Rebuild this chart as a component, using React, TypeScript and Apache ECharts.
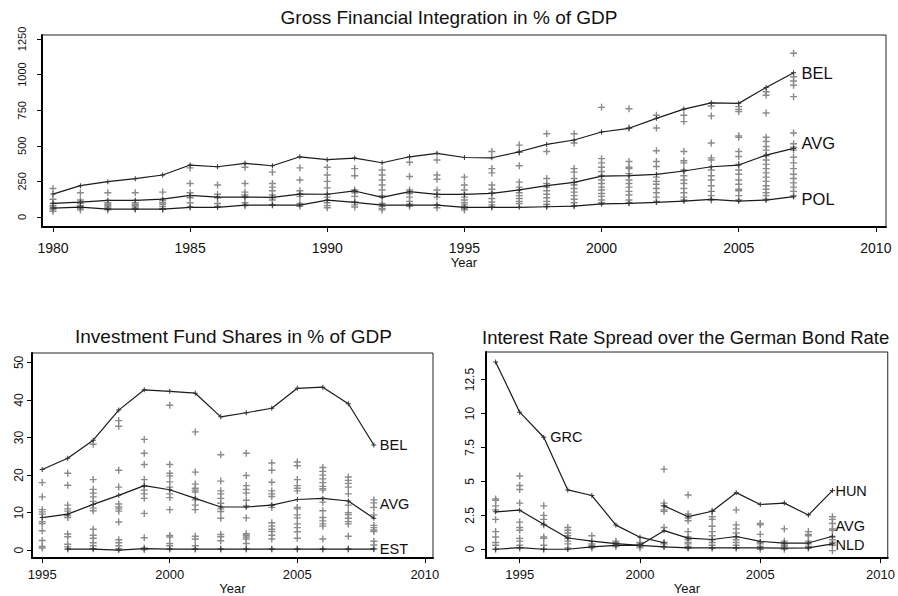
import React, { useEffect, useRef } from "react";
import * as echarts from "echarts";

// ---------- Panel 1: Gross Financial Integration in % of GDP ----------
const gfiYears = [1980, 1981, 1982, 1983, 1984, 1985, 1986, 1987, 1988, 1989, 1990, 1991, 1992, 1993, 1994, 1995, 1996, 1997, 1998, 1999, 2000, 2001, 2002, 2003, 2004, 2005, 2006, 2007];
const gfiBEL = [161, 220, 248, 269, 295, 365, 353, 377, 360, 423, 403, 414, 381, 423, 447, 418, 416, 458, 510, 541, 597, 623, 693, 758, 802, 798, 910, 1013];
const gfiAVG = [96, 105, 117, 117, 126, 152, 140, 140, 138, 161, 160, 183, 138, 178, 159, 159, 166, 190, 220, 243, 287, 290, 300, 323, 353, 365, 435, 482];
const gfiPOL = [63, 70, 56, 56, 56, 68, 68, 84, 84, 84, 119, 103, 84, 84, 84, 68, 68, 68, 72, 77, 92, 96, 103, 112, 124, 112, 119, 143];
const gfiOthers = [
  [200, 125, 95, 80, 70, 60, 50, 40],
  [170, 120, 95, 80, 70, 60, 50],
  [170, 100, 90, 80, 70, 60, 50],
  [170, 100, 90, 80, 70, 60, 55],
  [175, 115, 100, 90, 75, 60, 55],
  [345, 235, 170, 150, 135, 100, 70],
  [225, 160, 135, 95, 75],
  [350, 235, 175, 155, 140, 100, 80],
  [315, 235, 210, 185, 155, 135, 120, 85],
  [345, 260, 185, 160, 145, 95, 75],
  [350, 295, 250, 205, 160, 140, 100, 80, 65],
  [340, 290, 190, 170, 145, 105, 85, 70],
  [330, 295, 260, 225, 190, 150, 95, 75, 60, 50],
  [385, 285, 190, 165, 140, 110, 90, 75],
  [400, 295, 265, 190, 160, 140, 85, 65],
  [280, 225, 190, 160, 140, 120, 100, 85, 70, 60, 50],
  [460, 340, 310, 225, 195, 170, 130, 105, 85, 70],
  [505, 455, 360, 245, 210, 170, 150, 130, 110, 95],
  [585, 460, 270, 235, 210, 185, 160, 135, 110, 90, 75],
  [585, 520, 340, 315, 270, 245, 225, 200, 175, 150, 125, 100, 80],
  [770, 410, 380, 350, 320, 290, 260, 235, 210, 190, 165, 145, 120, 100],
  [760, 625, 390, 350, 340, 305, 260, 235, 210, 180, 155, 120, 100],
  [715, 625, 465, 390, 355, 280, 250, 230, 200, 170, 140, 110],
  [715, 670, 460, 395, 380, 330, 290, 260, 235, 200, 170, 140, 120],
  [780, 710, 520, 415, 400, 330, 290, 260, 220, 180, 150, 120],
  [775, 755, 740, 570, 560, 460, 425, 370, 330, 300, 260, 230, 195, 185, 150, 120],
  [880, 855, 730, 560, 530, 495, 470, 430, 400, 370, 340, 310, 280, 250, 220, 195, 170, 150, 125],
  [1150, 985, 955, 925, 845, 590, 515, 490, 470, 420, 380, 340, 300, 270, 240, 210, 180, 150],
];
const gfiXTicks = [1980, 1985, 1990, 1995, 2000, 2005, 2010];
const gfiYTicks = [0, 250, 500, 750, 1000, 1250];

// ---------- Panel 2: Investment Fund Shares in % of GDP ----------
const ifsYears = [1995, 1996, 1997, 1998, 1999, 2000, 2001, 2002, 2003, 2004, 2005, 2006, 2007, 2008];
const ifsBEL = [21.5, 24.5, 29.3, 37.3, 42.7, 42.3, 41.8, 35.5, 36.6, 37.8, 43.1, 43.4, 39.0, 28.0];
const ifsAVG = [8.7, 9.6, 12.2, 14.6, 17.2, 16.1, 13.8, 11.5, 11.5, 12.0, 13.5, 13.8, 13.1, 8.5];
const ifsEST = [null, 0.3, 0.3, 0.0, 0.4, 0.3, 0.3, 0.3, 0.3, 0.3, 0.3, 0.3, 0.3, 0.3];
const ifsOthers = [
  [18.0, 14.2, 10.8, 10.2, 9.6, 7.6, 7.1, 5.2, 2.6, 1.0, 0.6],
  [20.5, 17.3, 12.0, 11.0, 10.4, 9.2, 8.7, 4.3, 3.6, 1.6, 0.9, 0.3],
  [28.2, 18.8, 16.2, 15.2, 14.2, 13.0, 11.2, 10.5, 5.6, 4.0, 3.2, 2.0, 1.2, 0.4],
  [34.5, 33.0, 21.3, 16.8, 12.3, 11.5, 11.0, 10.4, 7.5, 2.8, 2.0, 1.2, 0.4],
  [29.5, 25.8, 22.8, 18.8, 17.0, 16.0, 15.0, 13.8, 9.8, 3.3, 0.6, 0.2],
  [38.6, 22.8, 20.5, 19.8, 18.2, 16.8, 15.0, 14.0, 10.8, 3.9, 3.5, 1.8, 1.2, 0.3],
  [31.5, 20.8, 17.6, 16.5, 16.0, 15.5, 13.4, 12.0, 10.8, 3.7, 3.0, 1.2, 0.3],
  [25.4, 18.4, 15.8, 15.0, 13.8, 12.5, 11.0, 10.3, 8.5, 4.2, 3.6, 2.5, 0.3],
  [25.8, 19.9, 17.2, 16.2, 15.2, 13.3, 11.8, 8.6, 4.4, 4.0, 3.5, 3.0, 1.8, 0.3],
  [23.2, 21.3, 18.1, 15.8, 15.0, 14.3, 12.0, 11.4, 7.3, 6.4, 5.6, 5.0, 4.0, 3.0, 0.3],
  [23.5, 22.5, 18.8, 17.2, 16.5, 15.8, 11.4, 11.0, 9.4, 8.6, 7.0, 6.0, 4.9, 3.2, 0.3],
  [22.0, 21.0, 20.0, 19.0, 18.0, 17.0, 16.4, 16.0, 12.8, 10.5, 8.7, 7.8, 7.0, 6.4, 3.0, 0.3],
  [19.5, 18.6, 17.8, 16.8, 15.0, 12.0, 10.0, 9.5, 8.5, 7.6, 7.0, 3.7, 0.3],
  [13.4, 12.6, 11.4, 9.4, 6.6, 6.0, 5.4, 5.0, 2.4, 1.4, 0.4],
];
const ifsXTicks = [1995, 2000, 2005, 2010];
const ifsYTicks = [0, 10, 20, 30, 40, 50];

// ---------- Panel 3: Interest Rate Spread over the German Bond Rate ----------
const irsYears = [1994, 1995, 1996, 1997, 1998, 1999, 2000, 2001, 2002, 2003, 2004, 2005, 2006, 2007, 2008];
const irsGRC = [13.8, 10.1, 8.25, 4.37, 3.96, 1.78, 0.89, 0.48, null, null, null, null, null, null, null];
const irsHUN = [null, null, null, null, null, null, null, 3.2, 2.4, 2.8, 4.17, 3.3, 3.4, 2.52, 4.32];
const irsAVG = [2.76, 2.88, 1.85, 0.83, 0.6, 0.41, 0.29, 1.37, 0.82, 0.72, 0.94, 0.58, 0.46, 0.46, 0.96];
const irsNLD = [0.0, 0.12, 0.0, 0.0, 0.17, 0.29, 0.29, 0.17, 0.1, 0.1, 0.1, 0.1, 0.08, 0.1, 0.4];
const irsOthers = [
  [3.7, 3.6, 3.2, 2.9, 2.2, 1.3, 0.9, 0.5, 0.3, 0.0],
  [5.4, 4.7, 4.4, 3.4, 2.0, 1.6, 1.4, 0.8, 0.6, 0.3, 0.1],
  [3.2, 2.5, 2.2, 1.8, 0.9, 0.8, 0.3, 0.0],
  [1.6, 1.4, 1.2, 1.0, 0.8, 0.6, 0.4, 0.1],
  [1.0, 0.4, 0.3, 0.2, 0.1],
  [0.6, 0.5, 0.4, 0.3, 0.2],
  [0.5, 0.4, 0.3, 0.2, 0.1],
  [5.9, 3.4, 3.2, 2.9, 2.8, 1.6, 0.5, 0.4, 0.2],
  [4.0, 2.6, 2.3, 2.1, 1.3, 0.9, 0.7, 0.5, 0.4, 0.2, 0.1],
  [2.8, 2.4, 2.2, 1.7, 1.3, 1.0, 0.7, 0.5, 0.3, 0.1],
  [2.9, 1.8, 1.5, 1.2, 0.9, 0.7, 0.5, 0.3, 0.1],
  [1.9, 1.8, 1.1, 0.5, 0.4, 0.2, 0.0],
  [1.5, 0.6, 0.4, 0.3, 0.2, 0.0],
  [1.3, 1.1, 1.0, 0.6, 0.4, 0.2, 0.1],
  [2.4, 2.2, 1.9, 1.5, 1.4, 0.9, 0.7, 0.5, 0.3, -0.1],
];
const irsXTicks = [1995, 2000, 2005, 2010];
const irsYTicks = [0, 2.5, 5, 7.5, 10, 12.5];

// ---------- helpers ----------
const FONT = "'Liberation Sans', Arial, Helvetica, sans-serif";
const TEXT = "#111";
const PLUS = "path://M4,0H6V4H10V6H6V10H4V6H0V4H4Z";

function flatten(years: number[], lists: number[][]) {
  const out: number[][] = [];
  lists.forEach((vals, i) => vals.forEach((v) => out.push([years[i], v])));
  return out;
}
function pairs(years: number[], vals: (number | null)[]) {
  const out: number[][] = [];
  years.forEach((y, i) => {
    const v = vals[i];
    if (v !== null && v !== undefined) out.push([y, v]);
  });
  return out;
}

function xAxisCfg(grid: number, min: number, max: number, ticks: number[], fs: number, margin: number, nameGap: number, nameFs: number) {
  return {
    type: "value",
    gridIndex: grid,
    min,
    max,
    name: "Year",
    nameLocation: "middle",
    nameGap,
    nameTextStyle: { color: TEXT, fontFamily: FONT, fontSize: nameFs },
    axisLine: { show: true, onZero: false, lineStyle: { color: "#000", width: 2 } },
    axisTick: { show: true, length: 5, customValues: ticks, lineStyle: { color: "#000", width: 1 } },
    axisLabel: {
      show: true,
      customValues: ticks,
      margin,
      color: TEXT,
      fontFamily: FONT,
      fontSize: fs,
      formatter: (v: number) => String(Math.round(v)),
    },
    splitLine: { show: false },
  };
}

function yAxisCfg(grid: number, min: number, max: number, ticks: number[], fs: number, margin: number) {
  return {
    type: "value",
    gridIndex: grid,
    min,
    max,
    axisLine: { show: true, onZero: false, lineStyle: { color: "#000", width: 2 } },
    axisTick: { show: true, length: 5, customValues: ticks, lineStyle: { color: "#000", width: 1 } },
    axisLabel: {
      show: true,
      customValues: ticks,
      rotate: 90,
      margin,
      color: TEXT,
      fontFamily: FONT,
      fontSize: fs,
      formatter: (v: number) => String(v),
    },
    splitLine: { show: false },
  };
}

function scatterCfg(idx: number, data: number[][]) {
  return {
    type: "scatter",
    xAxisIndex: idx,
    yAxisIndex: idx,
    data,
    symbol: PLUS,
    symbolSize: 7,
    itemStyle: { color: "#8a8a8a", opacity: 1 },
    silent: true,
    z: 2,
  };
}

function lineCfg(idx: number, data: any[], label: string | null, dist: number, dy: number, fs: number) {
  return {
    type: "line",
    xAxisIndex: idx,
    yAxisIndex: idx,
    data,
    symbol: PLUS,
    symbolSize: 5,
    showSymbol: true,
    itemStyle: { color: "#333" },
    lineStyle: { color: "#1a1a1a", width: 1.2 },
    endLabel: label
      ? {
          show: true,
          formatter: label,
          distance: dist,
          offset: [0, dy],
          color: TEXT,
          fontFamily: FONT,
          fontSize: fs,
        }
      : { show: false },
    silent: true,
    z: 3,
  };
}

export default function App() {
  const ref = useRef<HTMLDivElement>(null);

  useEffect(() => {
    if (!ref.current) return;
    const chart = echarts.init(ref.current, null, { renderer: "svg" });

    const grcData: any[] = pairs(irsYears, irsGRC).map((p, i) =>
      i === 2
        ? {
            value: p,
            label: {
              show: true,
              formatter: "GRC",
              position: "right",
              distance: 4,
              color: TEXT,
              fontFamily: FONT,
              fontSize: 14.5,
            },
          }
        : p
    );

    const option: any = {
      animation: false,
      backgroundColor: "#fff",
      title: [
        {
          text: "Gross Financial Integration in % of GDP",
          left: "center",
          top: 8,
          padding: 0,
          textStyle: { color: TEXT, fontFamily: FONT, fontSize: 19, fontWeight: "normal" },
        },
        {
          text: "Investment Fund Shares in % of GDP",
          left: 75,
          top: 327,
          padding: 0,
          textStyle: { color: TEXT, fontFamily: FONT, fontSize: 19, fontWeight: "normal" },
        },
        {
          text: "Interest Rate Spread over the German Bond Rate",
          left: 482,
          top: 328,
          padding: 0,
          textStyle: { color: TEXT, fontFamily: FONT, fontSize: 18.5, fontWeight: "normal" },
        },
      ],
      grid: [
        { left: 42, top: 35, width: 844, height: 192, show: true, borderColor: "#222", borderWidth: 1, backgroundColor: "transparent" },
        { left: 32, top: 353, width: 401, height: 210, show: true, borderColor: "#222", borderWidth: 1, backgroundColor: "transparent" },
        { left: 486, top: 352, width: 405, height: 211, show: true, borderColor: "#222", borderWidth: 1, backgroundColor: "transparent" },
      ],
      xAxis: [
        xAxisCfg(0, 1979.6, 2010.37, gfiXTicks, 14, 14, 26, 13),
        xAxisCfg(1, 1994.6, 2010.32, ifsXTicks, 13, 10, 22, 13),
        xAxisCfg(2, 1993.6, 2010.3, irsXTicks, 13, 10, 22, 13),
      ],
      yAxis: [
        yAxisCfg(0, -70, 1278, gfiYTicks, 11, 15),
        yAxisCfg(1, -2.1, 52.5, ifsYTicks, 12, 7),
        yAxisCfg(2, -0.65, 14.53, irsYTicks, 12, 10),
      ],
      series: [
        scatterCfg(0, flatten(gfiYears, gfiOthers)),
        lineCfg(0, pairs(gfiYears, gfiBEL), "BEL", 8, 0, 16.5),
        lineCfg(0, pairs(gfiYears, gfiAVG), "AVG", 8, -5, 16.5),
        lineCfg(0, pairs(gfiYears, gfiPOL), "POL", 8, 2, 16.5),

        scatterCfg(1, flatten(ifsYears, ifsOthers)),
        lineCfg(1, pairs(ifsYears, ifsBEL), "BEL", 6, 0, 14.5),
        lineCfg(1, pairs(ifsYears, ifsAVG), "AVG", 6, -14, 14.5),
        lineCfg(1, pairs(ifsYears, ifsEST), "EST", 6, 0, 14.5),

        scatterCfg(2, flatten(irsYears, irsOthers)),
        lineCfg(2, grcData, null, 0, 0, 14.5),
        lineCfg(2, pairs(irsYears, irsHUN), "HUN", 3, 0, 14.5),
        lineCfg(2, pairs(irsYears, irsAVG), "AVG", 3, -10, 14.5),
        lineCfg(2, pairs(irsYears, irsNLD), "NLD", 3, 1, 14.5),
      ],
    };

    chart.setOption(option);
    return () => chart.dispose();
  }, []);

  return (
    <div
      ref={ref}
      style={{ position: "absolute", left: 0, top: 0, width: 898, height: 596, background: "#fff" }}
    />
  );
}
